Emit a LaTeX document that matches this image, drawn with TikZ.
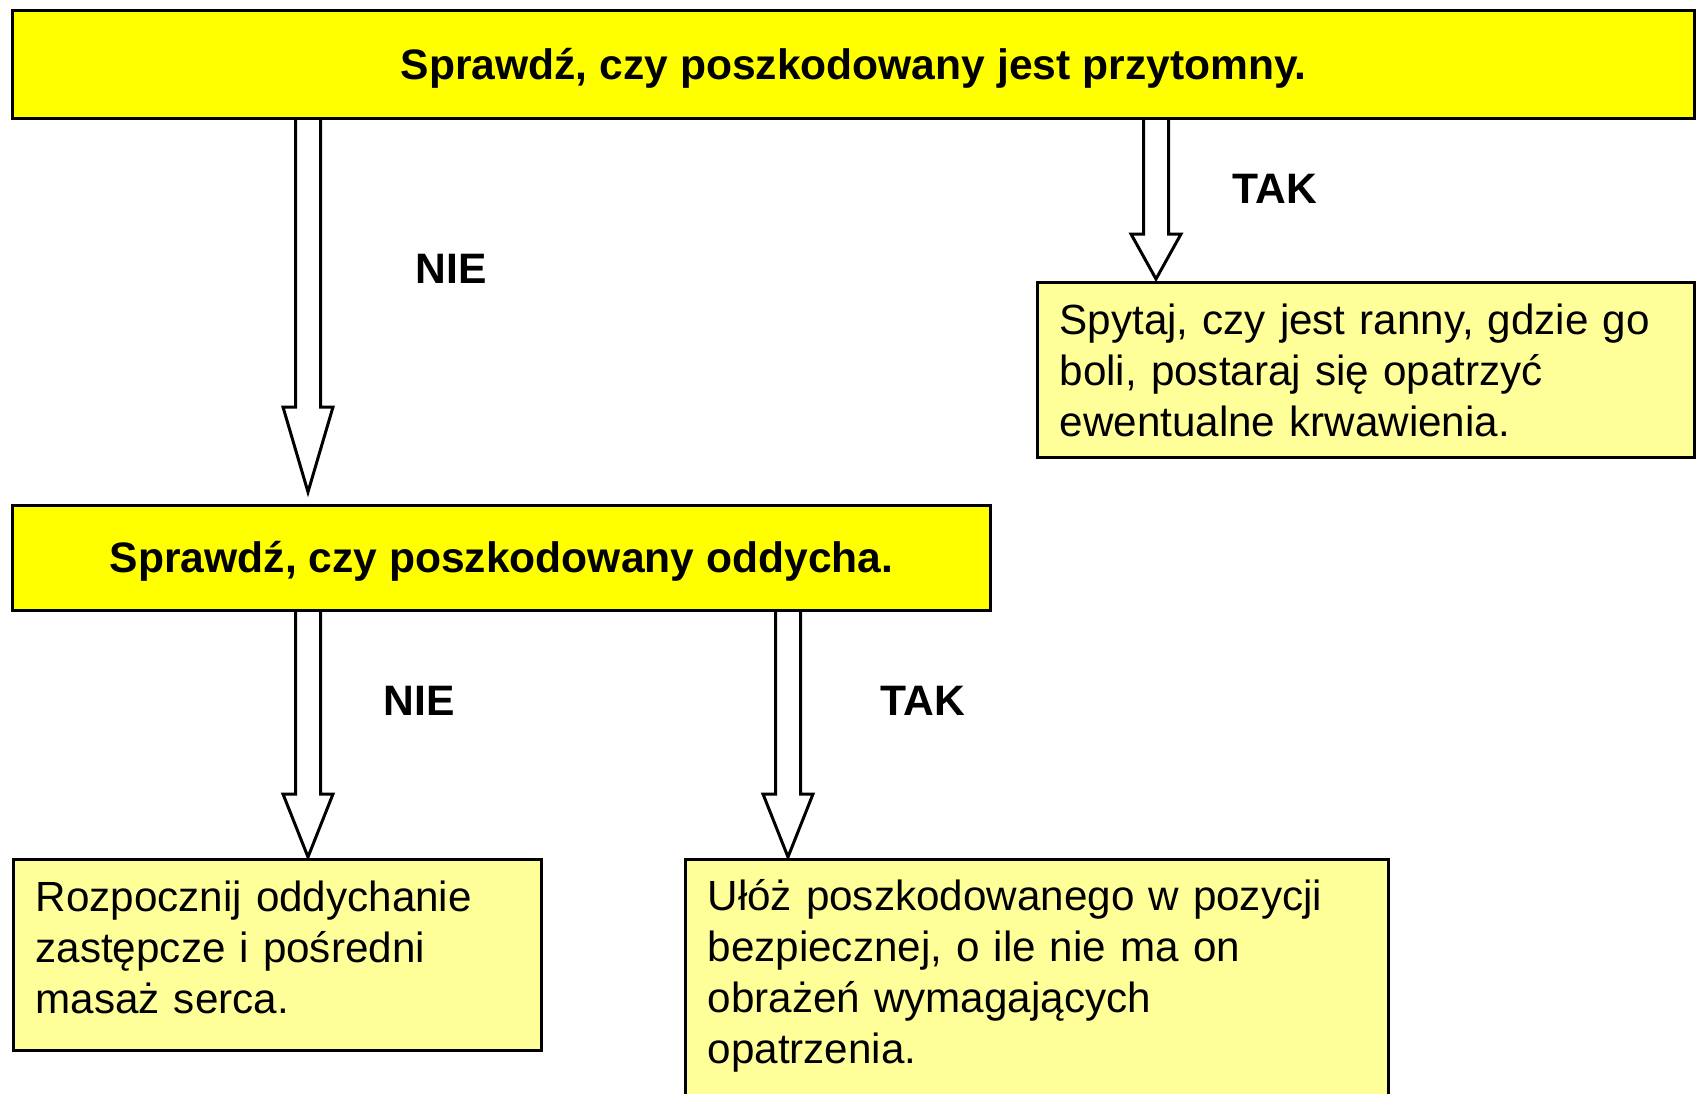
\documentclass[tikz,border=0pt]{standalone}
\usepackage{fontspec}
\setmainfont{Liberation Sans}
\usetikzlibrary{calc}
\definecolor{boxyellow}{HTML}{FFFF00}
\definecolor{noteyellow}{HTML}{FFFF99}
\tikzset{
  question/.style={rectangle,draw,line width=1.6pt,fill=boxyellow,anchor=north west,
    text depth=1pt,font=\bfseries\fontsize{21.3}{25.5}\selectfont},
  action/.style={rectangle,draw,line width=1.6pt,fill=noteyellow,anchor=north west,
    align=left,inner xsep=11pt,font=\fontsize{21.1}{25.5}\selectfont},
  answer/.style={font=\bfseries\fontsize{21.3}{25.5}\selectfont},
  hollow/.style={draw,line width=1.5pt,fill=white},
}
% x, from node, to node, head length, gap above target
\newcommand{\blockarrow}[5]{%
  \coordinate (s) at (#1,0 |- #2.south);
  \coordinate (t) at ($(#1,0 |- #3.north)+(0,-#5)$);
  \draw[hollow] ($(s)+(-12.5,0)$) -- ($(t)+(-12.5,-#4)$) -- ($(t)+(-25,-#4)$) -- (t)
    -- ($(t)+(25,-#4)$) -- ($(t)+(12.5,-#4)$) -- ($(s)+(12.5,0)$);
}
% extra depth on the last line, lifts the text a bit
\newcommand{\deep}[1]{\rule[-#1]{0pt}{#1}}
\begin{document}
\begin{tikzpicture}[x=0.5pt,y=-0.5pt]
  \clip (0,0) rectangle (1696,1093);
  \fill[white] (0,0) rectangle (1696,1093);
  \node[question,minimum width=841pt,minimum height=54pt] (alive) at (11,9)
    {Sprawdź, czy poszkodowany jest przytomny.};
  \node[action,text width=306.5pt,minimum height=87.5pt] (ask) at (1036,281)
    {Spytaj, czy jest ranny, gdzie go\\boli, postaraj się opatrzyć\\ewentualne krwawienia.};
  \node[question,minimum width=489pt,minimum height=52.5pt] (breath) at (11,504)
    {Sprawdź, czy poszkodowany oddycha.};
  \node[action,text width=242pt,minimum height=95.5pt] (cpr) at (12,858)
    {Rozpocznij oddychanie\\zastępcze i pośredni\\masaż serca.\deep{7.5pt}};
  \node[action,text width=329.5pt,minimum height=121pt] (safe) at (684,858)
    {Ułóż poszkodowanego w pozycji\\bezpiecznej, o ile nie ma on\\obrażeń wymagających\\opatrzenia.\deep{8.8pt}};

  \blockarrow{308}{alive}{breath}{85}{12}
  \blockarrow{1156}{alive}{ask}{45}{2}
  \blockarrow{308}{breath}{cpr}{63}{1}
  \blockarrow{788}{breath}{safe}{63}{1}

  \node[answer] (no1) at (451,269) {NIE};
  \node[answer] (yes1) at (1275,189) {TAK};
  \node[answer] (no2) at (419,701) {NIE};
  \node[answer] (yes2) at (923,701) {TAK};
\end{tikzpicture}
\end{document}
